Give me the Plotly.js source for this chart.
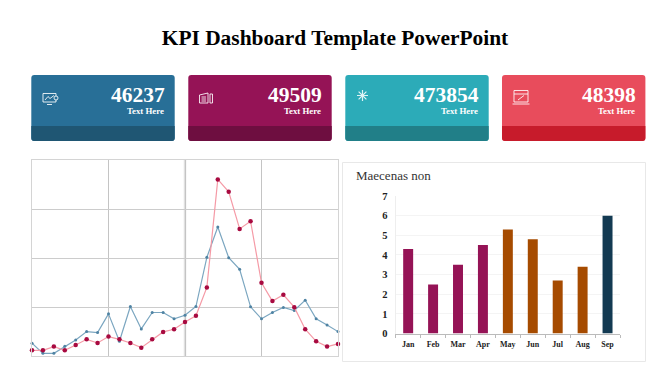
<!DOCTYPE html>
<html><head><meta charset="utf-8">
<script src="https://cdn.plot.ly/plotly-3.0.1.min.js"></script>
<style>html,body{margin:0;padding:0;background:#fff;overflow:hidden}#c{width:670px;height:376px}</style>
</head><body><div id="c"></div>
<script>
var W=670,H=376,SERIF='"Liberation Serif","DejaVu Serif",serif';
var chartTitle='KPI Dashboard Template PowerPoint';
var kpiValues=['46237','49509','473854','48398'];
var kpiLabels=['Text Here','Text Here','Text Here','Text Here'];
var kpiColors=['#286f97','#951356','#2cabb8','#e84c5c'];
var kpiDark=['#1f5673','#6e0e40','#217f88','#c71b2b'];
var blueValues=[13,2.7,2.7,9.9,16.4,24.9,23.9,43,15,50.5,27.6,44.4,44.4,37.9,41.6,50.5,100.7,131.7,100.3,88.4,50.2,37.9,44.4,49.5,46.4,57,37.9,31.7,24.9];
var redValues=[5.8,5.8,9.6,5.8,11.3,17,13.3,19.8,17,13.3,8.5,17,24.6,27.3,34.8,41,70,180.2,167.6,129.7,137.5,74.7,56,62.5,49.8,27.3,15,9.6,12.3];
var barTitle='Maecenas non';
var months=['Jan','Feb','Mar','Apr','May','Jun','Jul','Aug','Sep'];
var barValues=[4.3,2.5,3.5,4.5,5.3,4.8,2.7,3.4,6];
var barColors=['#951356','#951356','#951356','#951356','#a64b00','#a64b00','#a64b00','#a64b00','#133a52'];

var px=function(x){return (x/W).toFixed(5)}, py=function(y){return (1-y/H).toFixed(5)};
function pth(a){return a.map(function(s){return s[0]+' '+s.slice(1).map(function(v,i){return i%2?py(v):px(v)}).join(' ')}).join(' ')}
function sh(a,o){return Object.assign({type:'path',xref:'paper',yref:'paper',path:pth(a),line:{width:0}},o)}
function round(x0,y0,x1,y1,r){return [['M',x0+r,y0],['L',x1-r,y0],['Q',x1,y0,x1,y0+r],['L',x1,y1-r],['Q',x1,y1,x1-r,y1],['L',x0+r,y1],['Q',x0,y1,x0,y1-r],['L',x0,y0+r],['Q',x0,y0,x0+r,y0]]}
function bottom(x0,y0,x1,y1,r){return [['M',x0,y0],['L',x1,y0],['L',x1,y1-r],['Q',x1,y1,x1-r,y1],['L',x0+r,y1],['Q',x0,y1,x0,y1-r],['L',x0,y0]]}

var cardX=[31.3,188.3,345.3,502], cardW=143.4;
var shapes=[], ann=[];
cardX.forEach(function(x,i){
  shapes.push(sh(round(x,75,x+cardW,141,3),{fillcolor:kpiColors[i]}));
  shapes.push(sh(bottom(x,126,x+cardW,141,3),{fillcolor:kpiDark[i]}));
  ann.push({xref:'paper',yref:'paper',x:(x+cardW-7.5)/W,y:1-94.5/H,xanchor:'right',yanchor:'middle',showarrow:false,text:'<b>'+kpiValues[i]+'</b>',font:{family:SERIF,size:21.5,color:'#fff'}});
  ann.push({xref:'paper',yref:'paper',x:(x+cardW-8.5)/W,y:1-111/H,xanchor:'right',yanchor:'middle',showarrow:false,text:'<b>'+kpiLabels[i]+'</b>',font:{family:SERIF,size:8.8,color:'#fff'}});
});
// icons
var ic={line:{color:'rgba(255,255,255,.85)',width:1},fillcolor:'rgba(0,0,0,0)'};
// monitor
shapes.push(sh([['M',43,93.5],['L',56,93.5],['L',56,102],['L',43,102],['L',43,93.5]],ic));
shapes.push(sh([['M',45,100],['L',48,96.5],['L',50,98.5],['L',54,95.5]],ic));
shapes.push(sh([['M',47,104.5],['L',52,104.5]],ic));
shapes.push(sh(round(54,96,58,100,2),{line:ic.line,fillcolor:'#286f97'}));
// document
shapes.push(sh([['M',199.5,95],['L',208,93],['L',208,103],['L',199.5,103],['L',199.5,95]],ic));
shapes.push(sh([['M',201.5,97],['L',206,97],['M',201.5,99],['L',206,99],['M',201.5,101],['L',206,101]],ic));
shapes.push(sh([['M',210,94],['L',212.5,94],['L',212.5,103],['L',210,103],['L',210,94]],ic));
// star
shapes.push(sh([['M',362.5,90],['L',362.5,101],['M',357,95.5],['L',368,95.5],['M',358.6,91.6],['L',366.4,99.4],['M',366.4,91.6],['L',358.6,99.4]],{line:{color:'rgba(255,255,255,.85)',width:1.2}}));
// laptop
shapes.push(sh([['M',514,90.5],['L',528,90.5],['L',528,102],['L',514,102],['L',514,90.5]],ic));
shapes.push(sh([['M',514,94],['L',528,94],['M',518,100],['L',524,95.5]],ic));
shapes.push(sh([['M',512.5,104],['L',529.5,104]],ic));
// bar panel
shapes.push({type:'rect',xref:'paper',yref:'paper',x0:342.5/W,x1:645.5/W,y0:1-162.5/H,y1:1-361.5/H,line:{color:'#e8e8e8',width:1},fillcolor:'#fff',layer:'below'});
// wider pale centre rule of the line chart
shapes.push({type:'line',xref:'x',yref:'y',x0:14,x1:14,y0:0,y1:200,line:{color:'#e0e0e0',width:2.5},layer:'below'});
ann.push({xref:'paper',yref:'paper',x:353.5/W,y:1-175/H,xanchor:'left',yanchor:'middle',showarrow:false,text:barTitle,font:{family:SERIF,size:13,color:'#333'}});

var data=[
 {type:'scatter',mode:'lines+markers',x:blueValues.map(function(_,i){return i}),y:blueValues,line:{color:'#7ba6c0',width:1.2},marker:{color:'#4f83a3',size:3},cliponaxis:false,xaxis:'x',yaxis:'y'},
 {type:'scatter',mode:'lines+markers',x:redValues.map(function(_,i){return i}),y:redValues,line:{color:'#f59aa6',width:1.2},marker:{color:'#a80a40',size:4.5},cliponaxis:false,xaxis:'x',yaxis:'y'},
 {type:'bar',x:months,y:barValues,marker:{color:barColors},width:0.4,xaxis:'x2',yaxis:'y2'}
];
var layout={
 width:W,height:H,margin:{l:0,r:0,t:0,b:0},paper_bgcolor:'#fff',plot_bgcolor:'rgba(0,0,0,0)',showlegend:false,
 title:{text:'<b>'+chartTitle+'</b>',x:0.5,xanchor:'center',y:1-38/H,yanchor:'middle',font:{family:SERIF,size:21.4,color:'#000'}},
 xaxis:{domain:[32/W,338/W],anchor:'y',range:[0,28],dtick:7,tick0:0,showticklabels:false,ticks:'',showgrid:true,gridcolor:'#c4c4c4',gridwidth:1,showline:true,mirror:true,linecolor:'#d4d4d4',linewidth:1,zeroline:false},
 yaxis:{domain:[1-356/H,1-160/H],anchor:'x',range:[0,200],dtick:50,showticklabels:false,ticks:'',showgrid:true,gridcolor:'#cccccc',gridwidth:1,showline:true,mirror:true,linecolor:'#d4d4d4',linewidth:1,zeroline:false},
 xaxis2:{domain:[395.7/W,620/W],anchor:'y2',type:'category',categoryorder:'array',categoryarray:months,range:[-0.5,8.5],tickson:'boundaries',ticks:'outside',ticklen:3,tickcolor:'#bbb',ticklabelstandoff:3,showgrid:false,showline:true,linecolor:'#bbb',linewidth:1,zeroline:false,tickfont:{family:SERIF,size:8,color:'#222',weight:700}},
 yaxis2:{domain:[1-333.5/H,1-196/H],anchor:'x2',range:[0,7],dtick:1,ticks:'',showgrid:true,gridcolor:'#f4f4f4',showline:true,linecolor:'#eeeeee',zeroline:false,ticklabelstandoff:5,tickfont:{family:SERIF,size:10.5,color:'#222',weight:700}},
 shapes:shapes,annotations:ann
};
Plotly.newPlot('c',data,layout,{displayModeBar:false,responsive:false});
</script></body></html>
